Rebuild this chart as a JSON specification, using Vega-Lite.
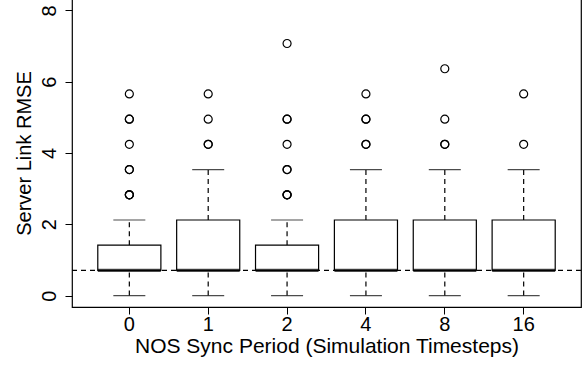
{
  "$schema": "https://vega.github.io/schema/vega-lite/v6.json",
  "width": 509,
  "height": 308,
  "autosize": {"type": "none"},
  "padding": {"left": 72, "top": -1, "right": 5, "bottom": 60},
  "background": "white",
  "config": {
    "font": "Liberation Sans",
    "view": {"stroke": "black", "strokeWidth": 1.2},
    "axis": {"grid": false, "domain": false, "tickColor": "black", "tickWidth": 1, "tickSize": 7,
             "labelColor": "black", "titleColor": "black", "labelFontSize": 20, "titleFontSize": 20,
             "labelFont": "Liberation Sans", "titleFont": "Liberation Sans", "titleFontWeight": "normal"}
  },
  "datasets": {
    "stats": [
      {"period": "0", "low": 0, "q1": 0.707, "median": 0.707, "q3": 1.414, "high": 2.121},
      {"period": "1", "low": 0, "q1": 0.707, "median": 0.707, "q3": 2.121, "high": 3.536},
      {"period": "2", "low": 0, "q1": 0.707, "median": 0.707, "q3": 1.414, "high": 2.121},
      {"period": "4", "low": 0, "q1": 0.707, "median": 0.707, "q3": 2.121, "high": 3.536},
      {"period": "8", "low": 0, "q1": 0.707, "median": 0.707, "q3": 2.121, "high": 3.536},
      {"period": "16", "low": 0, "q1": 0.707, "median": 0.707, "q3": 2.121, "high": 3.536}
    ],
    "outliers": [
      {"period": "0", "rmse": 2.828}, {"period": "0", "rmse": 2.828}, {"period": "0", "rmse": 2.828},
      {"period": "0", "rmse": 3.536}, {"period": "0", "rmse": 3.536},
      {"period": "0", "rmse": 4.243},
      {"period": "0", "rmse": 4.950}, {"period": "0", "rmse": 4.950},
      {"period": "0", "rmse": 5.657},
      {"period": "1", "rmse": 4.243}, {"period": "1", "rmse": 4.243},
      {"period": "1", "rmse": 4.950},
      {"period": "1", "rmse": 5.657},
      {"period": "2", "rmse": 2.828}, {"period": "2", "rmse": 2.828}, {"period": "2", "rmse": 2.828},
      {"period": "2", "rmse": 3.536}, {"period": "2", "rmse": 3.536},
      {"period": "2", "rmse": 4.243},
      {"period": "2", "rmse": 4.950}, {"period": "2", "rmse": 4.950},
      {"period": "2", "rmse": 7.071},
      {"period": "4", "rmse": 4.243}, {"period": "4", "rmse": 4.243},
      {"period": "4", "rmse": 4.950}, {"period": "4", "rmse": 4.950},
      {"period": "4", "rmse": 5.657},
      {"period": "8", "rmse": 4.243}, {"period": "8", "rmse": 4.243},
      {"period": "8", "rmse": 4.950},
      {"period": "8", "rmse": 6.364},
      {"period": "16", "rmse": 4.243},
      {"period": "16", "rmse": 5.657}
    ],
    "refline": [{"value": 0.707}]
  },
  "encoding": {
    "x": {"field": "period", "type": "ordinal", "sort": ["0", "1", "2", "4", "8", "16"],
          "scale": {"type": "band", "paddingInner": 0.2, "paddingOuter": 0.327},
          "axis": {"title": "NOS Sync Period (Simulation Timesteps)", "labelAngle": 0, "labelPadding": 0, "titlePadding": 1, "titleFontSize": 21}}
  },
  "layer": [
    {
      "data": {"name": "stats"},
      "mark": {"type": "rule", "color": "black", "strokeWidth": 1.2, "strokeDash": [5, 4]},
      "encoding": {
        "y": {"field": "low", "type": "quantitative",
              "scale": {"domain": [-0.32, 8.32], "nice": false, "zero": false},
              "axis": {"title": "Server Link RMSE", "values": [0, 2, 4, 6, 8], "labelAngle": 270,
                       "labelAlign": "center", "labelBaseline": "alphabetic", "labelPadding": 10, "titlePadding": 5}},
        "y2": {"field": "q1"}
      }
    },
    {
      "data": {"name": "stats"},
      "mark": {"type": "rule", "color": "black", "strokeWidth": 1.2, "strokeDash": [5, 4]},
      "encoding": {
        "y": {"field": "q3", "type": "quantitative"},
        "y2": {"field": "high"}
      }
    },
    {
      "data": {"name": "refline"},
      "mark": {"type": "rule", "color": "black", "strokeWidth": 1.2, "strokeDash": [5, 4]},
      "encoding": {
        "x": null,
        "y": {"field": "value", "type": "quantitative"}
      }
    },
    {
      "data": {"name": "stats"},
      "mark": {"type": "tick", "color": "black", "thickness": 1.2, "size": 32},
      "encoding": {"y": {"field": "low", "type": "quantitative"}}
    },
    {
      "data": {"name": "stats"},
      "mark": {"type": "tick", "color": "black", "thickness": 1.2, "size": 32},
      "encoding": {"y": {"field": "high", "type": "quantitative"}}
    },
    {
      "data": {"name": "stats"},
      "mark": {"type": "bar", "fill": "white", "stroke": "black", "strokeWidth": 1.2},
      "encoding": {
        "y": {"field": "q1", "type": "quantitative"},
        "y2": {"field": "q3"}
      }
    },
    {
      "data": {"name": "stats"},
      "mark": {"type": "tick", "color": "black", "thickness": 3.2, "size": 63},
      "encoding": {"y": {"field": "median", "type": "quantitative"}}
    },
    {
      "data": {"name": "outliers"},
      "mark": {"type": "point", "shape": "circle", "filled": false, "stroke": "black", "strokeWidth": 1.2, "size": 64, "opacity": 1},
      "encoding": {"y": {"field": "rmse", "type": "quantitative"}}
    }
  ]
}
